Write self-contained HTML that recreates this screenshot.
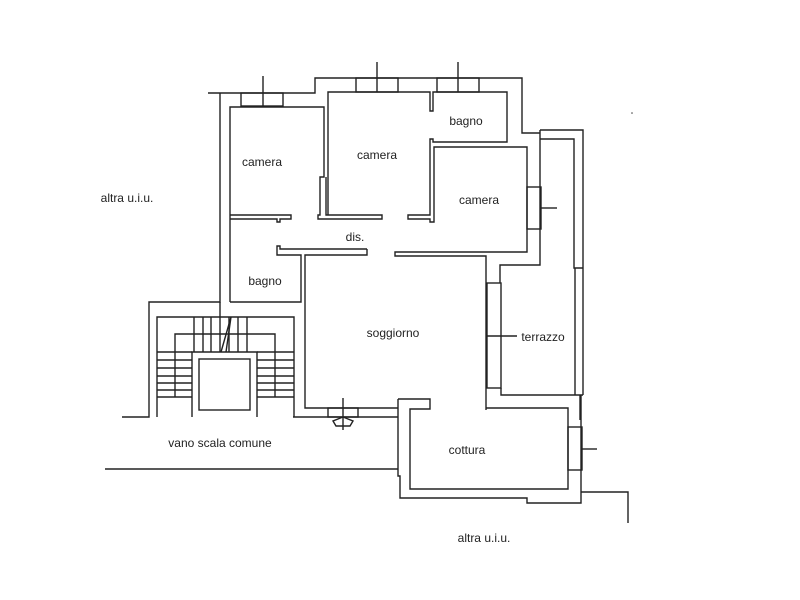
<!DOCTYPE html>
<html><head><meta charset="utf-8"><style>
html,body{margin:0;padding:0;background:#fff;}
svg{display:block;}
text{font-family:"Liberation Sans",Arial,sans-serif;font-size:12px;fill:#222;}
</style></head><body>
<svg width="800" height="600" viewBox="0 0 800 600" xmlns="http://www.w3.org/2000/svg">
<g fill="none" stroke="#222" stroke-width="1.4">
<!-- outer top/left -->
<polyline points="208,93 315,93 315,78 522,78 522,133 540,133"/>
<polyline points="220,93 220,302 149,302 149,417 122,417"/>
<!-- top windows -->
<rect x="241" y="93" width="42" height="13"/><line x1="263" y1="76" x2="263" y2="106"/>
<rect x="356" y="78" width="42" height="14"/><line x1="377" y1="62" x2="377" y2="92"/>
<rect x="437" y="78" width="42" height="14"/><line x1="458" y1="62" x2="458" y2="92"/>
<!-- left camera -->
<polyline points="230,302 230,107 324,107 324,177 320,177 320,215 318,215 318,219 382,219 382,215 326,215 326,177"/>
<polyline points="230,215 291,215 291,219 280,219 280,222 277,222 277,219 230,219"/>
<!-- middle camera -->
<polyline points="328,215 328,92 430,92 430,111 433,111 433,92 507,92 507,142 433,142 433,139 430,139 430,215 408,215 408,219 430,219 430,222 434,222 434,147 527,147 527,252 395,252 395,256 486,256 486,410"/>
<!-- right camera window -->
<rect x="527" y="187" width="14" height="42"/><line x1="541" y1="208" x2="557" y2="208"/>
<!-- right structures -->
<polyline points="540,130 583,130 583,395"/>
<polyline points="540,130 540,265 500,265 500,283"/>
<polyline points="540,139 574,139 574,268 583,268"/>
<line x1="575" y1="268" x2="575" y2="395"/>
<rect x="487" y="283" width="14" height="105"/><line x1="487" y1="336" x2="517" y2="336"/>
<polyline points="501,388 501,395 583,395"/>
<polyline points="486,408 568,408 568,489 410,489 410,409 430,409 430,399 398,399"/>
<line x1="580" y1="395" x2="580" y2="420"/>
<polyline points="581,395 581,503 527,503 527,498 400,498 400,476 398,476 398,399"/>
<rect x="568" y="427" width="14" height="43"/><line x1="582" y1="449" x2="597" y2="449"/>
<polyline points="581,492 628,492 628,523"/>
<line x1="105" y1="469" x2="398" y2="469"/>
<!-- corridor -->
<polyline points="367,249 280,249 280,246 277,246 277,255 301,255 301,302 230,302"/>
<polyline points="367,249 367,255 305,255 305,408 398,408"/>
<!-- bottom soggiorno -->
<line x1="293" y1="417" x2="398" y2="417"/>
<rect x="328" y="408" width="30" height="9"/>
<line x1="343" y1="398" x2="343" y2="430"/>
<polygon points="343,417 353,421 350,426 336,426 333,421"/>
<!-- stairs -->
<polyline points="157,417 157,317 294,317 294,417"/>
<polyline points="192,417 192,352 257,352 257,417"/>
<rect x="199" y="359" width="51" height="51"/>
<line x1="220" y1="302" x2="220" y2="352"/>
<line x1="194" y1="317" x2="194" y2="352"/><line x1="203" y1="317" x2="203" y2="352"/><line x1="211" y1="317" x2="211" y2="352"/><line x1="229" y1="317" x2="229" y2="352"/><line x1="238" y1="317" x2="238" y2="352"/><line x1="247" y1="317" x2="247" y2="352"/>
<line x1="157" y1="352" x2="192" y2="352"/><line x1="157" y1="360" x2="192" y2="360"/><line x1="157" y1="368" x2="192" y2="368"/><line x1="157" y1="376" x2="192" y2="376"/><line x1="157" y1="383" x2="192" y2="383"/><line x1="157" y1="390" x2="192" y2="390"/><line x1="157" y1="397" x2="192" y2="397"/>
<line x1="257" y1="352" x2="294" y2="352"/><line x1="257" y1="360" x2="294" y2="360"/><line x1="257" y1="368" x2="294" y2="368"/><line x1="257" y1="376" x2="294" y2="376"/><line x1="257" y1="383" x2="294" y2="383"/><line x1="257" y1="390" x2="294" y2="390"/><line x1="257" y1="397" x2="294" y2="397"/>
<polyline points="175,397 175,334 275,334 275,397"/>
<polyline points="221,352 231,317 226,352"/>
</g>
<circle cx="632" cy="113" r="0.8" fill="#444"/>
<text x="262" y="166" text-anchor="middle">camera</text>
<text x="377" y="159" text-anchor="middle">camera</text>
<text x="466" y="125" text-anchor="middle">bagno</text>
<text x="479" y="204" text-anchor="middle">camera</text>
<text x="355" y="241" text-anchor="middle">dis.</text>
<text x="265" y="285" text-anchor="middle">bagno</text>
<text x="393" y="337" text-anchor="middle">soggiorno</text>
<text x="543" y="341" text-anchor="middle">terrazzo</text>
<text x="467" y="454" text-anchor="middle">cottura</text>
<text x="220" y="447" text-anchor="middle">vano scala comune</text>
<text x="127" y="202" text-anchor="middle">altra u.i.u.</text>
<text x="484" y="542" text-anchor="middle">altra u.i.u.</text>
</svg>
</body></html>
